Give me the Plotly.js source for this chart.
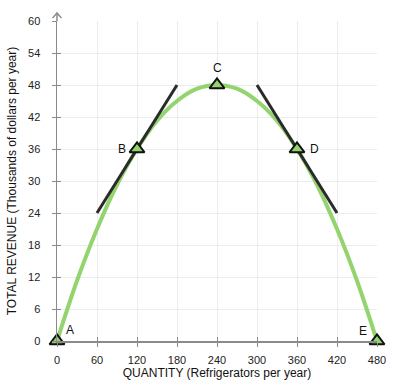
<!DOCTYPE html>
<html>
<head>
<meta charset="utf-8">
<script src="https://cdn.plot.ly/plotly-3.0.1.min.js"></script>
<style>html,body{margin:0;padding:0;background:#fff;}#chart{width:406px;height:387px;}</style>
</head>
<body>
<div id="chart"></div>
<script>
// Total revenue curve
const curveQ  = [0, 30, 60, 90, 120, 150, 180, 210, 240, 270, 300, 330, 360, 390, 420, 450, 480];
const curveTR = [0, 11.3, 21, 29.3, 36, 41.3, 45, 47.3, 48, 47.3, 45, 41.3, 36, 29.3, 21, 11.3, 0];

// Tangent lines at B and D
const tangentBQ  = [60, 180];
const tangentBTR = [24, 48];
const tangentDQ  = [300, 420];
const tangentDTR = [48, 24];

// Labeled points
const pointLabels = ["A", "B", "C", "D", "E"];
const pointQ  = [0, 120, 240, 360, 480];
const pointTR = [0, 36, 48, 36, 0];

const xTicks = [0, 60, 120, 180, 240, 300, 360, 420, 480];
const yTicks = [0, 6, 12, 18, 24, 30, 36, 42, 48, 54, 60];

const green = "#93d46e";
const dark = "#2b2b2b";
const axisGray = "#8a8a8a";
const fontFam = "Liberation Sans, Arial, sans-serif";

// label offsets in pixels (style)
const labelShift = [[13, 11], [-15, 0], [0, 17], [17, 0], [-14, 10]];

const traces = [
  {x: curveQ, y: curveTR, mode: "lines", line: {color: green, width: 4, shape: "spline"}, hoverinfo: "skip", cliponaxis: false},
  {x: tangentBQ, y: tangentBTR, mode: "lines", line: {color: dark, width: 3}, hoverinfo: "skip"},
  {x: tangentDQ, y: tangentDTR, mode: "lines", line: {color: dark, width: 3}, hoverinfo: "skip"},
  {x: pointQ, y: pointTR, mode: "markers",
   marker: {symbol: "triangle-up", size: 13, color: green, line: {color: "#111", width: 2}},
   cliponaxis: false, hoverinfo: "skip"},
  // invisible trace to carry the inside-tick overlay axes
  {x: pointQ, y: pointTR, xaxis: "x2", yaxis: "y2", mode: "markers", marker: {opacity: 0}, hoverinfo: "skip"}
];

const annotations = pointLabels.map((t, i) => ({
  x: pointQ[i], y: pointTR[i], xref: "x", yref: "y", text: t, showarrow: false,
  xshift: labelShift[i][0], yshift: labelShift[i][1],
  font: {family: fontFam, size: 12, color: "#111"}
}));

const baseX = {
  range: [0, 480], tickvals: xTicks, ticktext: xTicks.map(String),
  zeroline: false, fixedrange: true, tickcolor: axisGray, tickwidth: 1, ticklen: 4
};
const baseY = {
  range: [0, 60], tickvals: yTicks, ticktext: yTicks.map(String),
  zeroline: false, fixedrange: true, tickcolor: axisGray, tickwidth: 1, ticklen: 4
};

const layout = {
  width: 406, height: 387,
  margin: {l: 57, r: 29, t: 21, b: 46},
  paper_bgcolor: "#fff", plot_bgcolor: "#fff",
  showlegend: false,
  font: {family: fontFam, color: "#222"},
  xaxis: Object.assign({}, baseX, {
    showgrid: true, gridcolor: "#ececec", gridwidth: 1,
    showline: true, linecolor: axisGray, linewidth: 1.5,
    ticks: "outside", ticklabelstandoff: 4,
    tickfont: {size: 11, color: "#222"},
    title: {text: "QUANTITY (Refrigerators per year)", font: {size: 12, color: "#111"}, standoff: 4}
  }),
  yaxis: Object.assign({}, baseY, {
    showgrid: true, gridcolor: "#ececec", gridwidth: 1,
    showline: true, linecolor: axisGray, linewidth: 1.5,
    ticks: "outside", ticklabelstandoff: 9,
    tickfont: {size: 11, color: "#222"},
    title: {text: "TOTAL REVENUE (Thousands of dollars per year)", font: {size: 12, color: "#111"}, standoff: 9}
  }),
  xaxis2: Object.assign({}, baseX, {overlaying: "x", anchor: "y2", ticks: "inside", showticklabels: false, showgrid: false, showline: false}),
  yaxis2: Object.assign({}, baseY, {overlaying: "y", anchor: "x2", ticks: "inside", showticklabels: false, showgrid: false, showline: false}),
  annotations: annotations,
  shapes: [
    {type: "path", xref: "paper", yref: "paper", path: "M 0 1 L 0 1.025", line: {color: axisGray, width: 1.5}},
    {type: "path", xref: "paper", yref: "paper", path: "M -0.014 1.009 L 0 1.025 L 0.014 1.009", line: {color: axisGray, width: 1.5}}
  ]
};

Plotly.newPlot("chart", traces, layout, {displayModeBar: false, staticPlot: true});
</script>
</body>
</html>
